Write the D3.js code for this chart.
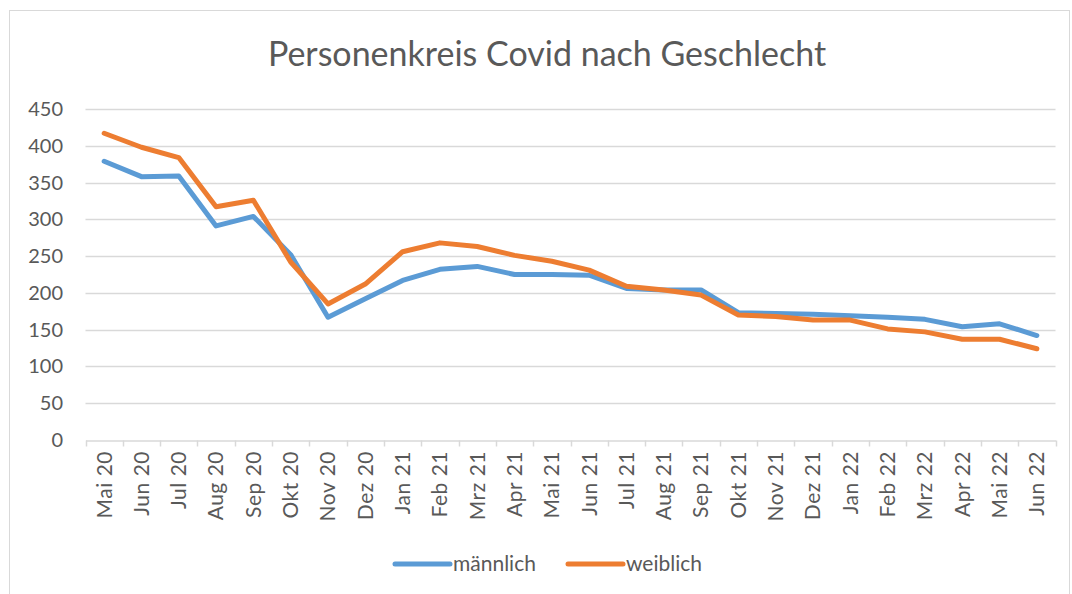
<!DOCTYPE html>
<html>
<head>
<meta charset="utf-8">
<script src="https://cdn.jsdelivr.net/npm/d3@7"></script>
<style>
  body { margin: 0; background: #fff; }
  text { font-family: Lato, 'Open Sans', sans-serif; fill: #595959; }
</style>
</head>
<body>
<script>
// Data
var months = ['Mai 20','Jun 20','Jul 20','Aug 20','Sep 20','Okt 20','Nov 20','Dez 20',
  'Jan 21','Feb 21','Mrz 21','Apr 21','Mai 21','Jun 21','Jul 21','Aug 21','Sep 21','Okt 21','Nov 21','Dez 21',
  'Jan 22','Feb 22','Mrz 22','Apr 22','Mai 22','Jun 22']
var maennlich = [379,358,359,291,304,252,167,192,217,232,236,225,225,224,206,204,204,173,172,171,169,167,164,154,158,142]
var weiblich = [417,398,384,317,326,242,185,212,256,268,263,251,243,231,209,204,197,170,168,163,163,151,147,137,137,124]
var yTicks = [0,50,100,150,200,250,300,350,400,450]
var seriesNames = ['männlich','weiblich']
var colors = ['#5B9BD5','#ED7D31']

var W = 1072, H = 594
var svg = d3.select('body').append('svg')
    .attr('width', W)
    .attr('height', H)

// frame
svg.append('rect')
    .attr('x', 9.5).attr('y', 10.5)
    .attr('width', W - 12).attr('height', H - 8)
    .attr('fill', 'none')
    .attr('stroke', '#d9d9d9')

// Scales
var xScale = d3.scaleBand()
    .domain(months)
    .range([85.5, 1055.5])
var yScale = d3.scaleLinear()
    .domain([0, 450])
    .range([440, 109])

// title
svg.append('text')
    .attr('x', 547)
    .attr('y', 66)
    .attr('text-anchor', 'middle')
    .style('font-size', '34px')
    .text('Personenkreis Covid nach Geschlecht')

// gridlines
svg.append('g')
    .selectAll('line')
    .data(yTicks.filter(function (d) { return d > 0 }))
    .enter()
  .append('line')
    .attr('x1', 85.5)
    .attr('x2', 1055.5)
    .attr('y1', function (d) { return Math.round(yScale(d)) + 0.5 })
    .attr('y2', function (d) { return Math.round(yScale(d)) + 0.5 })
    .attr('stroke', '#d9d9d9')
    .attr('stroke-width', 1.5)

// Y-axis labels
svg.append('g')
    .selectAll('text')
    .data(yTicks)
    .enter()
  .append('text')
    .attr('x', 63)
    .attr('y', function (d) { return yScale(d) })
    .attr('dy', '0.35em')
    .attr('text-anchor', 'end')
    .style('font-size', '20px')
    .text(function (d) { return d })

// X-axis
var xAxis = d3.axisBottom(xScale).tickSize(0).tickFormat('')
var gx = svg.append('g')
    .attr('transform', 'translate(0,' + (Math.round(yScale(0)) + 0.5) + ')')
    .call(xAxis)
gx.select('.domain').attr('stroke', '#d9d9d9').attr('stroke-width', 1.5)
// tick marks between categories
var bounds = months.map(function (m) { return xScale(m) }).concat([xScale.range()[1]])
gx.selectAll('.sep')
    .data(bounds)
    .enter()
  .append('line')
    .attr('class', 'sep')
    .attr('x1', function (d) { return Math.round(d) + 0.5 })
    .attr('x2', function (d) { return Math.round(d) + 0.5 })
    .attr('y1', 0)
    .attr('y2', 6)
    .attr('stroke', '#d9d9d9')
    .attr('stroke-width', 1.5)

// rotated x labels
svg.append('g')
    .selectAll('text')
    .data(months)
    .enter()
  .append('text')
    .attr('transform', function (d) {
      return 'translate(' + (xScale(d) + xScale.bandwidth() / 2) + ',451) rotate(-90)'
    })
    .attr('dy', '0.35em')
    .attr('text-anchor', 'end')
    .style('font-size', '21px')
    .style('letter-spacing', '0.5px')
    .text(function (d) { return d })

// Lines
var line = d3.line()
    .x(function (d, i) { return xScale(months[i]) + xScale.bandwidth() / 2 })
    .y(function (d) { return yScale(d) })

;[maennlich, weiblich].forEach(function (s, k) {
  svg.append('path')
      .datum(s)
      .attr('d', line)
      .attr('fill', 'none')
      .attr('stroke', colors[k])
      .attr('stroke-width', 5)
      .attr('stroke-linejoin', 'round')
      .attr('stroke-linecap', 'round')
})

// Legend
var legendX = [395, 568]
seriesNames.forEach(function (name, k) {
  var g = svg.append('g').attr('transform', 'translate(' + legendX[k] + ',564)')
  g.append('line')
      .attr('x1', 0).attr('x2', 55)
      .attr('y1', 0).attr('y2', 0)
      .attr('stroke', colors[k])
      .attr('stroke-width', 5)
      .attr('stroke-linecap', 'round')
  g.append('text')
      .attr('x', 58)
      .attr('y', 0)
      .attr('dy', '0.35em')
      .style('font-size', '21px')
      .text(name)
})
</script>
</body>
</html>
